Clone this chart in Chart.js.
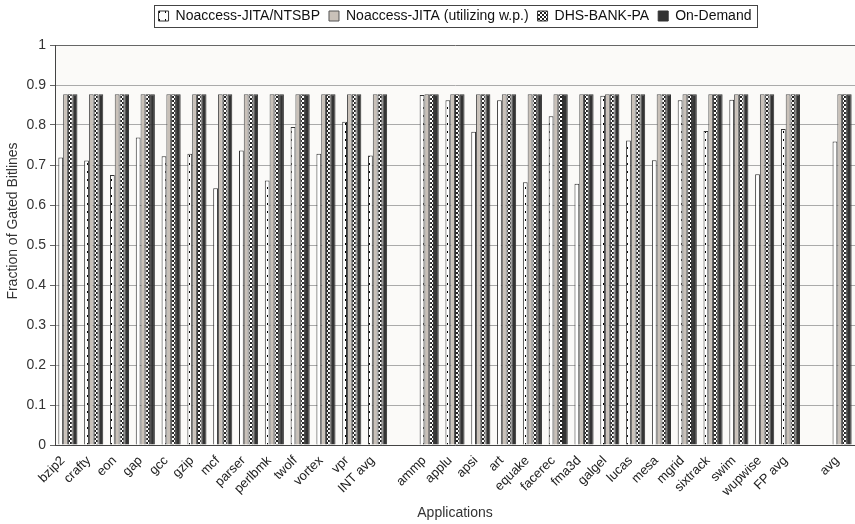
<!DOCTYPE html>
<html>
<head>
<meta charset="utf-8">
<script src="https://cdn.jsdelivr.net/npm/chart.js@4.4.1/dist/chart.umd.min.js"></script>
<style>
  body { margin: 0; background: #fff; }
  #wrap { width: 855px; height: 524px; }
</style>
</head>
<body>
<div id="wrap"><canvas id="bitlineChart" width="855" height="524"></canvas></div>
<script>
// categories (empty strings are the gaps between INT / FP / total)
const apps = ['bzip2', 'crafty', 'eon', 'gap', 'gcc', 'gzip', 'mcf', 'parser', 'perlbmk', 'twolf', 'vortex', 'vpr', 'INT avg', '',
  'ammp', 'applu', 'apsi', 'art', 'equake', 'facerec', 'fma3d', 'galgel', 'lucas', 'mesa', 'mgrid', 'sixtrack', 'swim', 'wupwise', 'FP avg', '',
  'avg'];

// series values
const ntsbp = [0.719, 0.711, 0.675, 0.769, 0.722, 0.728, 0.642, 0.736, 0.661, 0.795, 0.728, 0.808, 0.724, null,
  0.875, 0.862, 0.783, 0.862, 0.657, 0.822, 0.653, 0.873, 0.761, 0.712, 0.862, 0.785, 0.863, 0.677, 0.790, null,
  0.759];
const utilWp = [0.877, 0.877, 0.877, 0.877, 0.877, 0.877, 0.877, 0.877, 0.877, 0.877, 0.877, 0.877, 0.877, null,
  0.877, 0.877, 0.877, 0.877, 0.877, 0.877, 0.877, 0.877, 0.877, 0.877, 0.877, 0.877, 0.877, 0.877, 0.877, null,
  0.877];
const dhsBank = [0.877, 0.877, 0.877, 0.877, 0.877, 0.877, 0.877, 0.877, 0.877, 0.877, 0.877, 0.877, 0.877, null,
  0.877, 0.877, 0.877, 0.877, 0.877, 0.877, 0.877, 0.877, 0.877, 0.877, 0.877, 0.877, 0.877, 0.877, 0.877, null,
  0.877];
const onDemand = [0.877, 0.877, 0.877, 0.877, 0.877, 0.877, 0.877, 0.877, 0.877, 0.877, 0.877, 0.877, 0.877, null,
  0.877, 0.877, 0.877, 0.877, 0.877, 0.877, 0.877, 0.877, 0.877, 0.877, 0.877, 0.877, 0.877, 0.877, 0.877, null,
  0.877];

const seriesNames = ['Noaccess-JITA/NTSBP', 'Noaccess-JITA (utilizing w.p.)', 'DHS-BANK-PA', 'On-Demand'];
const yTicks = [0, 0.1, 0.2, 0.3, 0.4, 0.5, 0.6, 0.7, 0.8, 0.9, 1];

const FONT = '"Liberation Sans", Arial, sans-serif';

// fill patterns
function makePattern(w, h, draw) {
  const c = document.createElement('canvas');
  c.width = w;
  c.height = h;
  const g = c.getContext('2d');
  draw(g);
  return c.getContext('2d').createPattern(c, 'repeat');
}

const dotted = makePattern(6, 8, g => {
  g.fillStyle = '#fff';
  g.fillRect(0, 0, 6, 8);
  g.fillStyle = '#000';
  g.fillRect(3, 3, 1, 2);
});

const checker = makePattern(4, 4, g => {
  g.fillStyle = '#fff';
  g.fillRect(0, 0, 4, 4);
  g.fillStyle = '#222';
  g.fillRect(0, 0, 2, 2);
  g.fillRect(2, 2, 2, 2);
});

// plot background, legend frame, y title
const decor = {
  id: 'decor',
  beforeLayout(chart) {
    const lg = chart.legend;
    if (lg && !lg._fixedHeight) {
      const fit = lg.fit;
      lg.fit = function () {
        fit.call(this);
        this.height = 45;
      };
      lg._fixedHeight = true;
    }
  },
  beforeDraw(chart) {
    const a = chart.chartArea;
    const ctx = chart.ctx;
    ctx.save();
    ctx.fillStyle = '#fbfaf8';
    ctx.fillRect(a.left, a.top, a.right - a.left, a.bottom - a.top);
    ctx.restore();
  },
  afterDraw(chart) {
    const ctx = chart.ctx;
    const boxes = chart.legend.legendHitBoxes;
    if (boxes && boxes.length) {
      let l = Infinity, r = -Infinity, t = Infinity, b = -Infinity;
      boxes.forEach(bx => {
        l = Math.min(l, bx.left);
        r = Math.max(r, bx.left + bx.width);
        t = Math.min(t, bx.top);
        b = Math.max(b, bx.top + bx.height);
      });
      ctx.save();
      ctx.strokeStyle = '#444';
      ctx.lineWidth = 1;
      ctx.strokeRect(Math.round(l - 5) + 0.5, Math.round(t - 4) + 0.5, Math.round(r - l + 10), Math.round(b - t + 8));
      ctx.restore();
    }
    ctx.save();
    ctx.translate(13, 221);
    ctx.rotate(-Math.PI / 2);
    ctx.font = '14px ' + FONT;
    ctx.fillStyle = '#333';
    ctx.textAlign = 'center';
    ctx.textBaseline = 'middle';
    ctx.fillText('Fraction of Gated Bitlines', 0, 0);
    ctx.restore();
  }
};

const ctx = document.getElementById('bitlineChart').getContext('2d');
new Chart(ctx, {
  type: 'bar',
  data: {
    labels: apps,
    datasets: [{
      label: seriesNames[0],
      data: ntsbp,
      backgroundColor: dotted,
      borderColor: '#333',
      borderWidth: 1
    }, {
      label: seriesNames[1],
      data: utilWp,
      backgroundColor: '#c9c1b9',
      borderColor: '#555',
      borderWidth: 1
    }, {
      label: seriesNames[2],
      data: dhsBank,
      backgroundColor: checker,
      borderColor: '#333',
      borderWidth: 1
    }, {
      label: seriesNames[3],
      data: onDemand,
      backgroundColor: '#333',
      borderColor: '#333',
      borderWidth: 1
    }]
  },
  options: {
    responsive: false,
    animation: false,
    categoryPercentage: 0.74,
    barPercentage: 1.0,
    layout: { padding: 0 },
    plugins: {
      legend: {
        position: 'top',
        fullSize: false,
        labels: {
          boxWidth: 10,
          boxHeight: 10,
          padding: 9,
          color: '#111',
          font: { family: FONT, size: 14 }
        }
      },
      tooltip: { enabled: false }
    },
    scales: {
      x: {
        grid: { display: false },
        border: { display: true, color: '#444' },
        ticks: {
          autoSkip: false,
          maxRotation: 45,
          minRotation: 45,
          color: '#222',
          padding: 0,
          labelOffset: -5,
          font: { family: FONT, size: 13 }
        },
        title: {
          display: true,
          text: 'Applications',
          color: '#333',
          padding: { top: 0, bottom: 2 },
          font: { family: FONT, size: 14 }
        },
        afterFit(scale) { scale.height = 79; }
      },
      y: {
        min: 0,
        max: 1,
        afterBuildTicks(scale) { scale.ticks = yTicks.map(v => ({ value: v })); },
        grid: {
          color: c => (c.tick && c.tick.value === 1 ? '#666' : '#aaa'),
          lineWidth: 1,
          tickLength: 5,
          tickColor: '#666'
        },
        border: { display: true, color: '#444' },
        ticks: {
          color: '#333',
          padding: 4,
          font: { family: FONT, size: 14 },
          callback: v => String(+v.toFixed(1))
        },
        afterFit(scale) { scale.width = 55; }
      }
    }
  },
  plugins: [decor]
});
</script>
</body>
</html>
